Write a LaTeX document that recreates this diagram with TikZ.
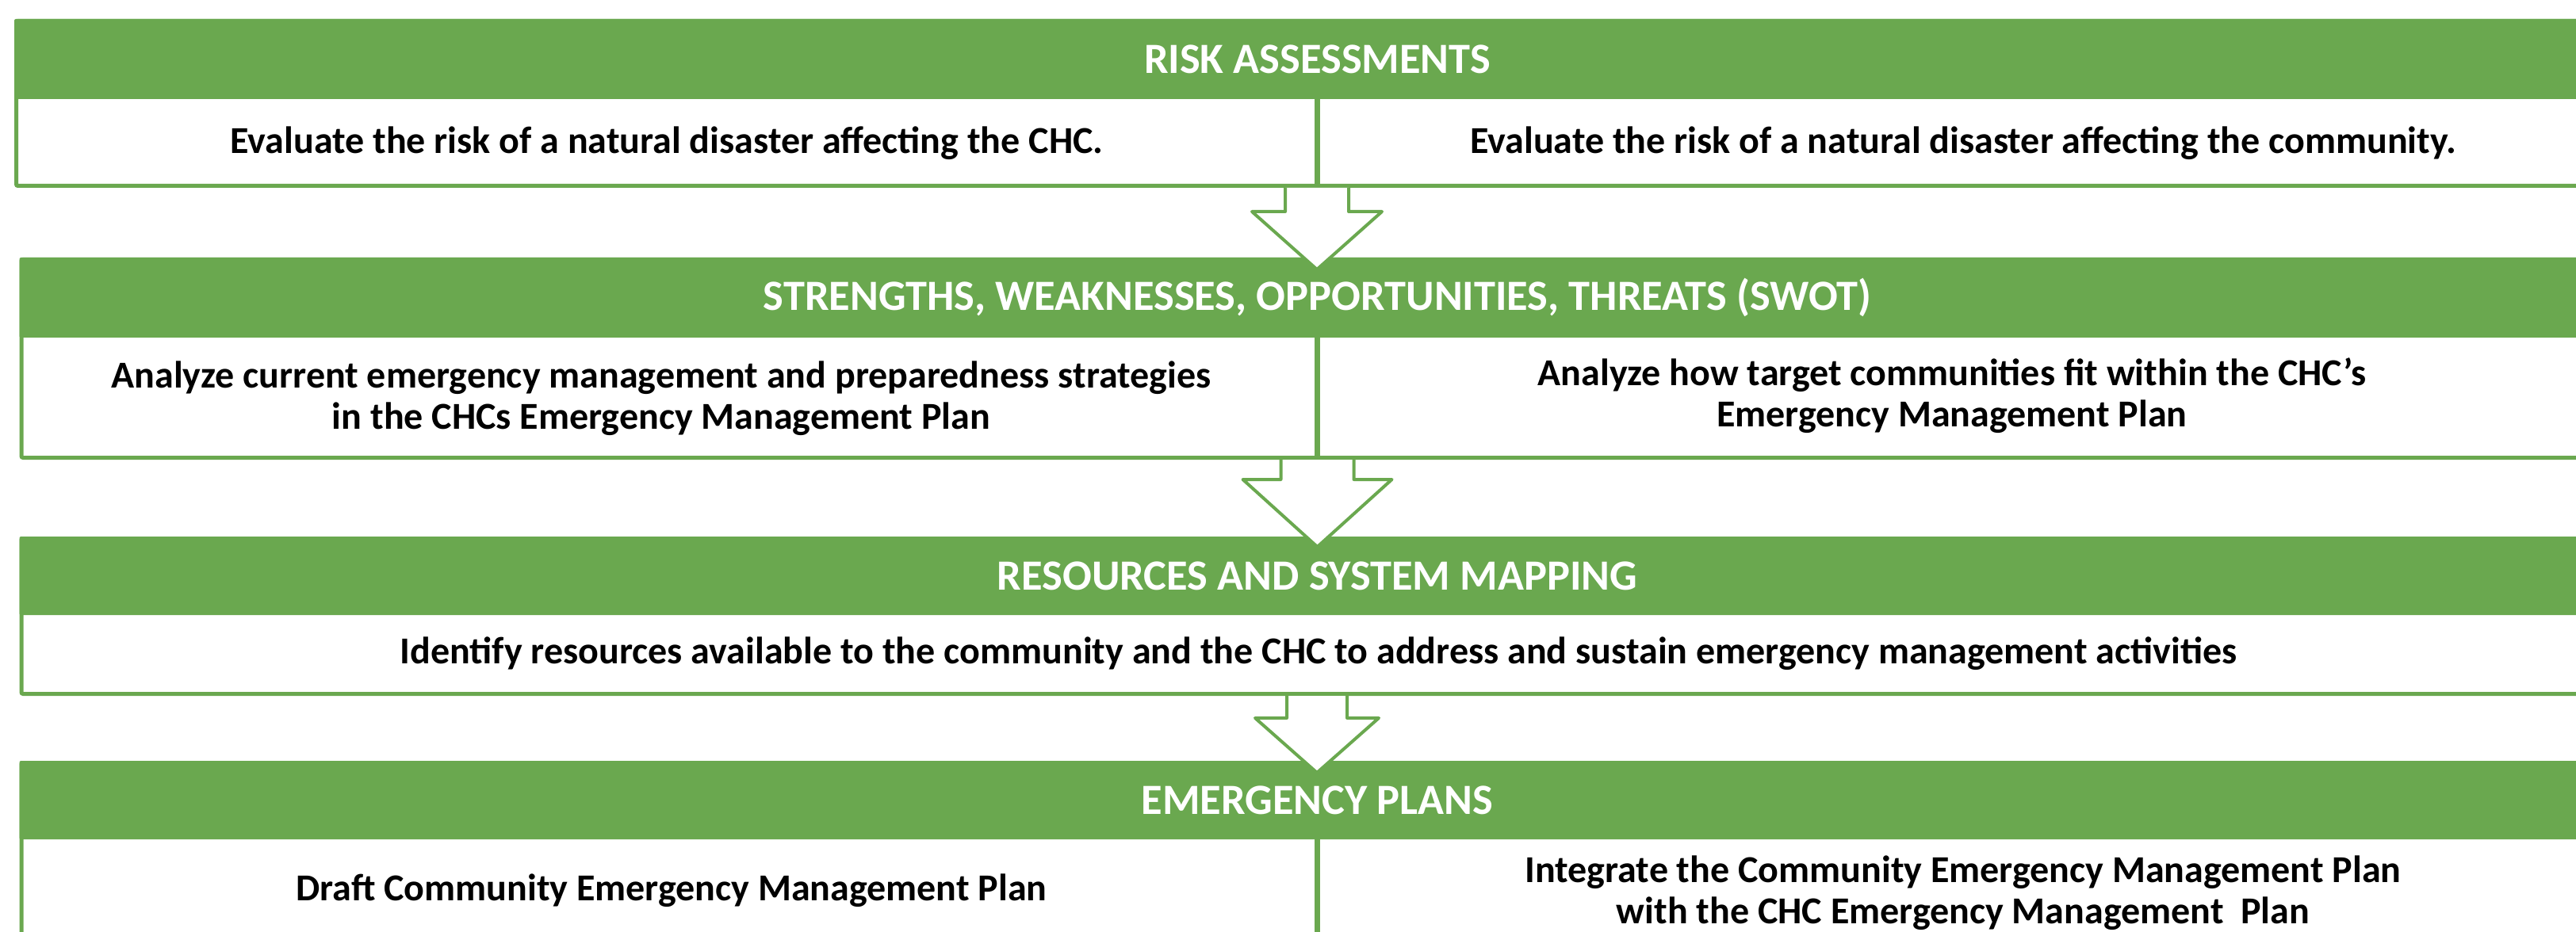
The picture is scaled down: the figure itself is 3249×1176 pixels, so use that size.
\documentclass[tikz,border=0pt]{standalone}
\usepackage{fontspec}
\setmainfont{Carlito}
\usetikzlibrary{calc}
\definecolor{grn}{HTML}{6AA84F}
\newcommand\blkarrow[6]{%
  \filldraw[barrow] (#1-#3,#2) -- (#1-#3,#4) -- (#1-#5,#4) -- (#1,#6) -- (#1+#5,#4) -- (#1+#3,#4) -- (#1+#3,#2);}
\begin{document}
\begin{tikzpicture}[x=0.5pt,y=-0.5pt,
  frame/.style={draw=grn, line width=2.5pt, fill=white, rounded corners=1pt},
  hdr/.style={fill=grn, rounded corners=1pt},
  divider/.style={draw=grn, line width=3.5pt},
  htext/.style={text=white, font=\fontsize{27.2}{32}\selectfont\bfseries, align=center, inner sep=0pt},
  btext/.style={text=black, font=\fontsize{24}{26}\selectfont\bfseries, align=center, inner sep=0pt},
  barrow/.style={draw=grn, line width=2pt, fill=white, line join=round}]
\useasboundingbox (0,0) rectangle (3249,1176);
% ---- box 1
\path[frame] (20.5,26.5) rectangle (3304,234.5);
\path[hdr] (18,24) rectangle (3306,125);
\draw[divider] (1661.5,125) -- (1661.5,234.5);
\node[htext] (h1) at (1661.5,74.5) {RISK ASSESSMENTS};
\node[btext] (t1a) at (841,181) {Evaluate the risk of a natural disaster affecting the CHC.};
\node[btext] (t1b) at (2476,181) {Evaluate the risk of a natural disaster affecting the community.};
% ---- box 2
\path[frame] (27,327.5) rectangle (3304,577.5);
\path[hdr] (24.5,325) rectangle (3306,426);
\draw[divider] (1661.5,426) -- (1661.5,577.5);
\node[htext] (h2) at (1661.5,375.5) {STRENGTHS, WEAKNESSES, OPPORTUNITIES, THREATS (SWOT)};
\node[btext] (t2a) at (834,503) {Analyze current emergency management and preparedness strategies\\in the CHCs Emergency Management Plan};
\node[btext] (t2b) at (2462,499) {Analyze how target communities fit within the CHC’s\\Emergency Management Plan};
% ---- box 3
\path[frame] (27,679.5) rectangle (3304,875.5);
\path[hdr] (24.5,677) rectangle (3306,776);
\node[htext] (h3) at (1661.5,726.5) {RESOURCES AND SYSTEM MAPPING};
\node[btext] (t3) at (1663,825) {Identify resources available to the community and the CHC to address and sustain emergency management activities};
% ---- box 4
\path[frame] (27,962.5) rectangle (3304,1195);
\path[hdr] (24.5,960) rectangle (3306,1059);
\draw[divider] (1661.5,1059) -- (1661.5,1195);
\node[htext] (h4) at (1661.5,1009.5) {EMERGENCY PLANS};
\node[btext] (t4a) at (847,1124) {Draft Community Emergency Management Plan};
\node[btext] (t4b) at (2476,1127) {Integrate the Community Emergency Management Plan\\with the CHC Emergency Management\ \ Plan};
% ---- block arrows
\blkarrow{1661}{237}{40}{267}{82}{340}
\blkarrow{1661.5}{580}{46}{605}{94}{690}
\blkarrow{1661}{878}{38}{906}{78}{975}
\end{tikzpicture}
\end{document}
